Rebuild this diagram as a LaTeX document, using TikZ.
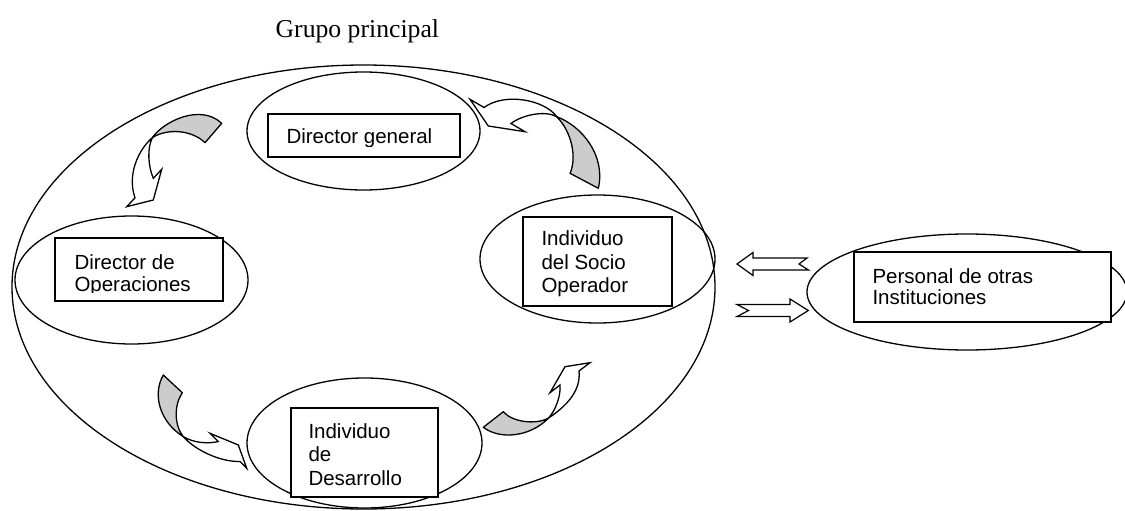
\documentclass[tikz,border=0pt]{standalone}
\usepackage{fontspec}
\setmainfont{Liberation Serif}
\setsansfont{Liberation Sans}
\usetikzlibrary{shapes.geometric}

% left-aligned stack of lines whose baseline is the first line
\newcommand{\lineas}[1]{\begin{tabular}[t]{@{}l@{}}#1\end{tabular}}

\begin{document}
\begin{tikzpicture}[x=1pt,y=-1pt,line width=1.3pt,
  oval/.style={draw, ellipse, inner sep=0pt, outer sep=0pt},
  box/.style={draw, fill=white, rectangle, inner sep=0pt, outer sep=0pt},
  lbl/.style={inner sep=0pt, outer sep=0pt, anchor=base west,
              font=\sffamily\fontsize{20.5}{#1}\selectfont},
  lbl/.default=23.5,
  back/.style={draw, fill=black!20, line join=round},
  front/.style={draw, fill=white, line join=miter},
  block/.style={draw, fill=white, line width=1.2pt, line join=miter}]
\useasboundingbox (0,0) rectangle (1125,511);

% title and the main group
\node[inner sep=0pt, anchor=base west, font=\fontsize{25.7}{30}\selectfont]
  (titulo) at (275,37.3) {Grupo principal};
\node[oval, minimum width=703pt, minimum height=444pt] (grupo) at (363.5,287) {};

% members of the main group
\node[oval, minimum width=233pt, minimum height=118pt] (eDG) at (363.5,131) {};
\node[box, minimum width=192pt, minimum height=43pt] (bDG) at (364,135.5) {};
\begin{scope}
  \clip (268,114) rectangle (460,146);
  \node[lbl] (tDG) at (286.5,143.3) {Director general};
\end{scope}

\node[oval, minimum width=233pt, minimum height=128pt] (eDO) at (131.5,280) {};
\node[box, minimum width=168pt, minimum height=63pt] (bDO) at (139,269.5) {};
\begin{scope}
  \clip (55,238) rectangle (223,292.3);
  \node[lbl=22] (tDO) at (74.5,269.5) {\lineas{Director de\\Operaciones}};
\end{scope}

\node[oval, minimum width=235pt, minimum height=128pt] (eSO) at (597.5,259) {};
\node[box, minimum width=149pt, minimum height=89pt] (bSO) at (597.5,261.5) {};
\node[lbl=23.8] (tSO) at (541.5,245.3) {\lineas{Individuo\\del Socio\\Operador}};

\node[oval, minimum width=235pt, minimum height=130pt] (eID) at (364.5,443) {};
\node[box, minimum width=147pt, minimum height=89pt] (bID) at (364.5,452.5) {};
\node[lbl=23.3] (tID) at (308.5,438.5) {\lineas{Individuo\\de\\Desarrollo}};

% outside institutions
\node[oval, minimum width=320pt, minimum height=116pt] (ePI) at (967,292) {};
\node[box, minimum width=257pt, minimum height=70pt] (bPI) at (982.5,287) {};
\node[lbl=20.5] (tPI) at (872.5,283.3) {\lineas{Personal de otras\\Instituciones}};

% exchange arrows between the group and the institutions
\draw[block] (737,264) -- (753,252.5) -- (753,258) -- (807,258) -- (799,264)
  -- (808.5,270) -- (753,270) -- (753,275.5) -- cycle;
\draw[block] (808.3,310.5) -- (790,299) -- (790,304.5) -- (737,304.5) -- (748.5,310.5)
  -- (737,316.5) -- (790,316.5) -- (790,322) -- cycle;

% curved arrows: Director general -> Director de Operaciones
\draw[back] (152.5,137.5) .. controls (163,122) and (200,103) .. (221.7,123.3)
  -- (205,142.7) .. controls (192,130) and (168,128) .. (152.5,137.5) -- cycle;
\draw[front] (152.5,137.5) .. controls (138,150) and (127,175) .. (135,197.8)
  -- (126.7,206.7) -- (153.3,200) -- (161.7,169.3) -- (153.3,178.3)
  .. controls (148,166) and (147,148) .. (152.5,137.5) -- cycle;

% Individuo del Socio Operador -> Director general
\draw[back] (556.7,116.7) .. controls (582,126) and (606,156) .. (598.3,188.3)
  -- (570,173.3) .. controls (577,158) and (572,132) .. (556.7,116.7) -- cycle;
\draw[front] (556.7,116.7) .. controls (545,100) and (505,92) .. (484,107.5)
  -- (470,99.3) -- (488.3,126) -- (525,131.7) -- (511,123.5)
  .. controls (522,115) and (545,110) .. (556.7,116.7) -- cycle;

% Director de Operaciones -> Individuo de Desarrollo
\draw[back] (163.3,375) .. controls (152,395) and (160,422) .. (183.3,436.7)
  .. controls (174,425) and (174,405) .. (182.3,392.7) -- cycle;
\draw[front] (183.3,436.7) .. controls (195,450) and (220,462) .. (240,461.5)
  -- (246.7,468.3) -- (238.3,445) -- (210,433.3) -- (218.3,441.5)
  .. controls (208,444) and (194,443) .. (183.3,436.7) -- cycle;

% Individuo de Desarrollo -> Individuo del Socio Operador
\draw[back] (483.3,427.3) .. controls (500,440) and (530,437) .. (548.3,418.3)
  .. controls (535,425) and (512,422) .. (503.3,411.7) -- cycle;
\draw[front] (548.3,418.3) .. controls (568,405) and (581,390) .. (579,371)
  -- (590,362.7) -- (565,366.7) -- (550,392.7) -- (560,385)
  .. controls (561,395) and (556,410) .. (548.3,418.3) -- cycle;
\end{tikzpicture}
\end{document}
